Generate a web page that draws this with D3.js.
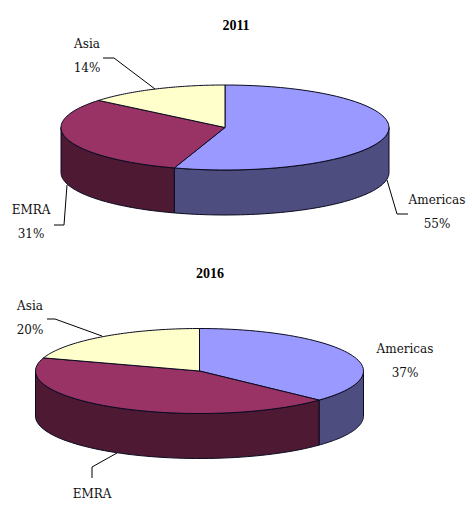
<!DOCTYPE html>
<html><head><meta charset="utf-8">
<style>html,body{margin:0;padding:0;background:#fff}svg{display:block}</style>
<script src="https://cdnjs.cloudflare.com/ajax/libs/d3/7.8.5/d3.min.js"></script>
</head><body><svg id="c" width="472" height="509"></svg>
<script>
const categories = ["Americas", "EMRA", "Asia"];
const years = ["2011", "2016"];
const values2011 = [55, 31, 14];
const values2016 = [37, 43, 20];
const topColors = ["#9999ff", "#993366", "#ffffcc"];
const sideColors = ["#4d4d80", "#4d1933", "#808066"];

const layouts = [
 { title: years[0], values: values2011, titlePos: [236, 30], cx: 225, cy: 127.5, rx: 164, ry: 42.5, depth: 45,
   labels: [
    { x: 437, y: 204, py: 228, pct: true, leader: [[408,214],[397,214],[387,180]] },
    { x: 31, y: 214, py: 238, pct: true, leader: [[54,225],[64,225],[67,185]] },
    { x: 87, y: 48, py: 72, pct: true, leader: [[103,58],[114,58],[155,89]] }
   ]},
 { title: years[1], values: values2016, titlePos: [210, 278], cx: 199.5, cy: 371, rx: 164, ry: 42.5, depth: 45,
   labels: [
    { x: 405, y: 353, py: 377, pct: true, leader: null },
    { x: 92, y: 498, py: null, pct: false, leader: [[92,478],[92,467],[117,453]] },
    { x: 30, y: 310, py: 334, pct: true, leader: [[47,319],[55,319],[102,336]] }
   ]}
];

const svg = d3.select("#c");
const pie = d3.pie().sort(null).value(d => d);
const stroke = "#0a0a20";
const serif = "'DejaVu Serif', serif";

function drawPie(cfg) {
  const g = svg.append("g");
  const x = d3.scaleLinear().domain([-1, 1]).range([cfg.cx - cfg.rx, cfg.cx + cfg.rx]);
  const y = d3.scaleLinear().domain([-1, 1]).range([cfg.cy - cfg.ry, cfg.cy + cfg.ry]);
  const pt = (a, dz = 0) => [x(Math.sin(a)), y(-Math.cos(a)) + dz];
  const samples = (a0, a1) => d3.range(0, 61).map(i => a0 + (a1 - a0) * i / 60);
  const line = d3.line();
  const arcs = pie(cfg.values);

  // side walls: only the front half of the rim (90deg..270deg clockwise from top)
  arcs.forEach((d, i) => {
    const a0 = Math.max(d.startAngle, Math.PI / 2);
    const a1 = Math.min(d.endAngle, Math.PI * 1.5);
    if (a1 <= a0) return;
    const s = samples(a0, a1);
    const pts = s.map(a => pt(a)).concat(s.slice().reverse().map(a => pt(a, cfg.depth)));
    g.append("path").attr("d", line(pts) + "Z")
      .attr("fill", sideColors[i]).attr("stroke", stroke).attr("stroke-width", 1).attr("stroke-linejoin", "round");
  });
  // top faces
  arcs.forEach((d, i) => {
    const pts = [[x(0), y(0)]].concat(samples(d.startAngle, d.endAngle).map(a => pt(a)));
    g.append("path").attr("d", line(pts) + "Z")
      .attr("fill", topColors[i]).attr("stroke", stroke).attr("stroke-width", 1).attr("stroke-linejoin", "round");
  });
  // leaders and labels
  cfg.labels.forEach((l, i) => {
    if (l.leader) g.append("path").attr("d", line(l.leader)).attr("fill", "none").attr("stroke", "#000").attr("stroke-width", 1);
    text(g, l.x, l.y, categories[i]);
    if (l.pct) text(g, l.x, l.py, d3.format(".0f")(cfg.values[i]) + "%");
  });
  g.append("text").attr("x", cfg.titlePos[0]).attr("y", cfg.titlePos[1]).attr("text-anchor", "middle")
    .attr("font-family", "'Liberation Serif', serif").attr("font-weight", "bold").attr("font-size", 14).attr("fill", "#000").text(cfg.title);
}
function text(g, x, y, s) {
  g.append("text").attr("x", x).attr("y", y).attr("text-anchor", "middle")
    .attr("font-family", serif).attr("font-size", 12).attr("fill", "#111").text(s);
}
layouts.forEach(drawPie);
</script></body></html>
